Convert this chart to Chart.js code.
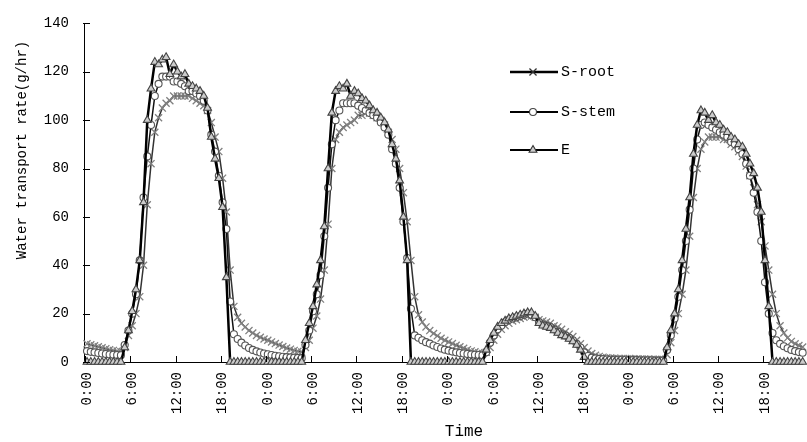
<!DOCTYPE html>
<html><head><meta charset="utf-8">
<script src="https://cdn.jsdelivr.net/npm/chart.js@4.4.1/dist/chart.umd.min.js"></script>
<style>html,body{margin:0;padding:0;background:#fff;}canvas{display:block;}</style>
</head><body>
<canvas id="c" width="807" height="442"></canvas>
<script>
// Tick labels (every 6 hours, 4 days)
const tickLabels = ["0:00","6:00","12:00","18:00","0:00","6:00","12:00","18:00",
                    "0:00","6:00","12:00","18:00","0:00","6:00","12:00","18:00"];
const seriesNames = ["S-root","S-stem","E"];
const xTitle = "Time";
const yTitle = "Water transport rate(g/hr)";

// Values every 30 minutes, 4 days (48 per day)
const sRoot = [
 7.5,7.1,6.7,6.3,5.9,5.5,5.1,4.8,4.5,4.2, 6,11,15,20,27,40,65,82,95,101,
 105,107,108,110,110,110,110,110,109,108, 107,106,104,99,93,87,76,62,38,23,
 18.5,16,14.5,13,12,11,10.2,9.5,
 9,8.3,7.6,7,6.4,5.8,5.3,4.8,4.4,4.1, 6,9,14,19,26,38,57,80,92,95,
 97,98,99,100,102,102,103,103,102,101, 100,98,95,92,88,80,70,58,42,27,
 19.5,16.5,14.5,13,11.8,10.8,9.8,9,
 8.3,7.6,6.9,6.3,5.7,5.1,4.6,4.2,3.8,3.5, 4,6,9,11.5,13.5,15,16,17,17.5,18,
 18.5,19,19,18.5,17.5,17,16.5,16,15,14.5, 13.5,12.5,11.5,10.5,9,7.5,6,4.5,3.5,2.8,
 2.3,2,1.8,1.7,1.6,1.5,1.5,1.4,
 1.4,1.3,1.3,1.2,1.2,1.2,1.1,1.1,1.1,1.0, 3,8,13,20,28,38,52,68,80,88,
 91,93,93,93,93,92,92,90,89,87, 85,81,77,72,65,58,48,38,28,20,
 15,12,10,8.5,7.5,6.8,6.2,5.7
];
const sStem = [
 4.5,4.2,4,3.7,3.5,3.3,3.1,3,2.9,2.8, 7,13,20,28,42,68,85,98,110,115,
 118,118,118,116,116,115,114,112,112,111, 110,108,104,94,87,77,66,55,25,11.5,
 9.5,8,6.8,5.8,5,4.4,3.9,3.5,
 3.2,2.9,2.6,2.4,2.2,2.0,1.9,1.8,1.7,1.6, 7,13,21,28,36,52,72,90,100,104,
 107,107,107,107,106,105,104,103,102,101, 99,97,94,88,82,72,58,43,22,11,
 10,9,8.2,7.6,6.8,6.2,5.6,5.1,
 4.7,4.3,4,3.7,3.5,3.3,3.1,3,2.9,2.8, 4,8,11,13.5,15,16.5,17.5,18,18.5,19,
 19.5,20,19.5,18.5,16.5,15.5,15,14.5,13.5,12.5, 11.5,11,10,9,7.5,6,4,2.5,1.8,1.5,
 1.3,1.2,1.1,1,1,0.9,0.9,0.9,
 0.8,0.8,0.8,0.7,0.7,0.7,0.7,0.6,0.6,0.6, 5,11,18,27,38,50,63,80,92,98,
 99,98,97,96,95,94,93,91,90,88, 86,82,77,70,62,50,33,20,12,9,
 7.5,6.5,5.7,5,4.5,4.1,3.8,3.5
];
const eVals = [
 0,0,0,0,0,0,0,0,0,0, 6,13,21,30,42,66,100,113,124,123,
 125,126,119,123,120,118,119,115,114,113, 112,110,105,93,84,76,64,35,0,0,
 0,0,0,0,0,0,0,0,
 0,0,0,0,0,0,0,0,0,0, 9,16,23,32,42,56,80,103,112,114,
 113,115,110,112,111,109,108,106,104,103, 101,99,96,90,84,75,60,42,0,0,
 0,0,0,0,0,0,0,0,
 0,0,0,0,0,0,0,0,0,0, 5,9,12,14.5,16,17,18,18.5,19,19.5,
 20,20.5,20.5,19,16,15,14.5,14,13,12, 11,10.5,9.5,8.5,7,5,2,0,0,0,
 0,0,0,0,0,0,0,0,
 0,0,0,0,0,0,0,0,0,0, 6,13,20,30,42,55,68,86,98,104,
 103,100,102,99,98,96,95,93,92,90, 89,86,82,78,72,62,42,23,0,0,
 0,0,0,0,0,0,0,0
];
// x positions: hours since start (30-minute sampling)
const hours = sRoot.map((_, i) => i / 2);

const FONT = '"Liberation Mono", "DejaVu Sans Mono", monospace';

const decor = {
  id: 'decor',
  afterDraw(chart) {
    const {ctx, chartArea} = chart;
    const x = chart.scales.x, y = chart.scales.y;
    ctx.save();
    ctx.strokeStyle = '#000';
    ctx.lineWidth = 1;
    x.ticks.forEach(t => {
      const px = Math.round(x.getPixelForValue(t.value - 0.25)) + 0.5;
      ctx.beginPath(); ctx.moveTo(px, chartArea.bottom); ctx.lineTo(px, chartArea.bottom - 6); ctx.stroke();
    });
    y.ticks.forEach(t => {
      const py = Math.round(y.getPixelForValue(t.value)) + 0.5;
      ctx.beginPath(); ctx.moveTo(chartArea.left - 1, py); ctx.lineTo(chartArea.left + 6, py); ctx.stroke();
    });
    // axis titles
    ctx.fillStyle = '#000';
    ctx.textAlign = 'center';
    ctx.textBaseline = 'middle';
    ctx.font = '16px ' + FONT;
    ctx.fillText(xTitle, 464, 432);
    ctx.save();
    ctx.translate(22, 150);
    ctx.rotate(-Math.PI / 2);
    ctx.font = '14px ' + FONT;
    ctx.fillText(yTitle, 0, 0);
    ctx.restore();
    // legend
    const rows = [72, 112, 150];
    chart.data.datasets.forEach((ds, i) => {
      const yy = rows[i];
      ctx.strokeStyle = '#000';
      ctx.lineWidth = ds.legendLineWidth;
      ctx.beginPath(); ctx.moveTo(510, yy); ctx.lineTo(558, yy); ctx.stroke();
      ctx.fillStyle = ds.pointBackgroundColor;
      ctx.strokeStyle = ds.legendPointColor;
      ctx.lineWidth = ds.pointBorderWidth;
      Chart.helpers.drawPoint(ctx, {
        pointStyle: ds.pointStyle, radius: ds.pointRadius, rotation: 0,
        borderWidth: ds.pointBorderWidth
      }, 533, yy);
      ctx.fillStyle = '#000';
      ctx.textAlign = 'left';
      ctx.font = '15px ' + FONT;
      ctx.fillText(ds.label, 561, yy);
    });
    ctx.restore();
  }
};

new Chart(document.getElementById('c'), {
  type: 'line',
  data: {
    labels: hours,
    datasets: [
      { label: seriesNames[0], data: sRoot, order: 3,
        borderColor: '#333', borderWidth: 1.5, legendLineWidth: 2.5,
        pointStyle: 'crossRot', pointRadius: 5, pointBorderWidth: 1.3,
        pointBorderColor: '#808080', pointBackgroundColor: '#808080',
        legendPointColor: '#333', clip: false },
      { label: seriesNames[1], data: sStem, order: 2,
        borderColor: '#111', borderWidth: 1.5, legendLineWidth: 2,
        pointStyle: 'circle', pointRadius: 3.5, pointBorderWidth: 1.1,
        pointBorderColor: '#555', pointBackgroundColor: '#fff',
        legendPointColor: '#444', clip: false },
      { label: seriesNames[2], data: eVals, order: 1,
        borderColor: '#000', borderWidth: 2.5, legendLineWidth: 2,
        pointStyle: 'triangle', pointRadius: 4.5, pointBorderWidth: 1.1,
        pointBorderColor: '#444', pointBackgroundColor: '#ccc',
        legendPointColor: '#333', clip: false }
    ]
  },
  options: {
    responsive: false,
    animation: false,
    events: [],
    devicePixelRatio: 1,
    layout: { padding: { top: 17, left: 0, right: 0, bottom: 0 } },
    elements: { line: { tension: 0 } },
    plugins: { legend: { display: false }, tooltip: { enabled: false } },
    scales: {
      x: {
        type: 'linear', min: -0.4, max: 94.74,
        grid: { display: false, drawTicks: false },
        border: { display: true, color: '#000', width: 1 },
        ticks: {
          stepSize: 6, includeBounds: false, autoSkip: false, maxTicksLimit: 100,
          minRotation: 90, maxRotation: 90, padding: 10, color: '#000',
          font: { family: FONT, size: 14 },
          callback: v => { const k = Math.round(v / 6); return (Math.abs(v - k * 6) < 1e-6 && k >= 0) ? tickLabels[k] : ''; }
        },
        afterFit: s => { s.height = 80; }
      },
      y: {
        min: 0, max: 140,
        grid: { display: false, drawTicks: false },
        border: { display: true, color: '#000', width: 1 },
        ticks: { stepSize: 20, padding: 15, color: '#000', font: { family: FONT, size: 14 } },
        afterFit: s => { s.width = 84; }
      }
    }
  },
  plugins: [decor]
});
</script>
</body></html>
